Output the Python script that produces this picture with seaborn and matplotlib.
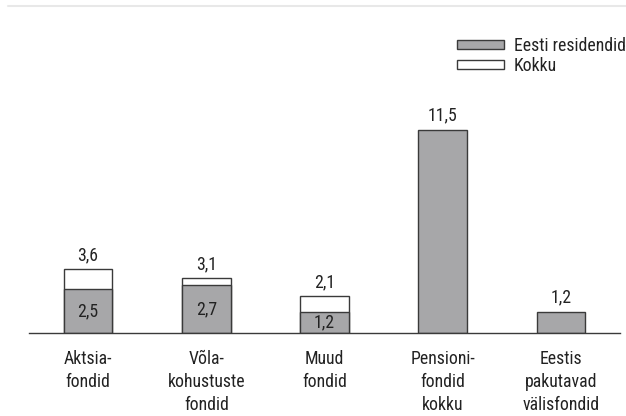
import matplotlib
matplotlib.use("Agg")
import matplotlib.pyplot as plt
from matplotlib import font_manager
from matplotlib.lines import Line2D
from matplotlib.patches import Patch
import numpy as np
import pandas as pd
import seaborn as sns

categories = ["Aktsia-\nfondid", "Võla-\nkohustuste\nfondid", "Muud\nfondid",
              "Pensioni-\nfondid\nkokku", "Eestis\npakutavad\nvälisfondid"]
residents = [2.5, 2.7, 1.2, 11.5, 1.2]
totals = [3.6, 3.1, 2.1, np.nan, np.nan]

sns.set_theme(style="white")
installed = {f.name for f in font_manager.fontManager.ttflist}
preferred = ["Liberation Sans Narrow", "DejaVu Sans Condensed", "Roboto Condensed",
             "Open Sans Condensed", "Noto Sans Condensed"]
narrow = [f for f in preferred if f in installed]
plt.rcParams["font.family"] = narrow[:1] + ["DejaVu Sans"]
fs = 12.8 if narrow else 10.5

df = pd.DataFrame({"kategooria": categories, "residendid": residents, "kokku": totals})

fig = plt.figure(figsize=(6.26, 4.16), dpi=100)
ax = fig.add_axes([29 / 626, 1 - 333 / 416, (620 - 29) / 626, (333 - 68) / 416])

edge = "#3a3a3a"
gray = "#a7a7a9"
bw = 0.41

sns.barplot(data=df, x="kategooria", y="kokku", order=categories, color="white",
            edgecolor=edge, linewidth=1.0, width=bw, saturation=1, ax=ax)
sns.barplot(data=df, x="kategooria", y="residendid", order=categories, color=gray,
            edgecolor=edge, linewidth=1.0, width=bw, saturation=1, ax=ax)

fmt = lambda v: f"{v:.1f}".replace(".", ",")
txt = "#222222"
for i, (r, t) in enumerate(zip(residents, totals)):
    top = r if np.isnan(t) else t
    ax.annotate(fmt(top), (i, top), xytext=(0, 6.5), textcoords="offset points",
                ha="center", va="baseline", fontsize=fs, color=txt)
    if not np.isnan(t):
        ax.text(i, r / 2, fmt(r), ha="center", va="center", fontsize=fs, color=txt)

ax.set_ylim(0, 15)
ax.set_xlim(-0.5, len(categories) - 0.5)
ax.set_xlabel("")
ax.set_ylabel("")
ax.set_yticks([])
for s in ["top", "right", "left"]:
    ax.spines[s].set_visible(False)
ax.spines["bottom"].set_color(edge)
ax.spines["bottom"].set_linewidth(1.0)

ax.set_xticks(range(len(categories)))
ax.set_xticklabels(categories, fontsize=fs, color=txt, linespacing=1.36)
ax.tick_params(axis="x", which="major", length=0, pad=12)
ax.set_xticks(np.arange(-0.5, len(categories)), minor=True)
ax.tick_params(axis="x", which="minor", length=7, width=1.0, color=edge, direction="out")

handles = [Patch(facecolor=gray, edgecolor=edge, linewidth=1.0, label="Eesti residendid"),
           Patch(facecolor="white", edgecolor=edge, linewidth=1.0, label="Kokku")]
leg = fig.legend(handles=handles, loc="upper right", bbox_to_anchor=(1.0, 1 - 37 / 416),
                 frameon=False, fontsize=fs, handlelength=2.65, handleheight=0.4,
                 handletextpad=0.55, labelspacing=0.12, borderpad=0, borderaxespad=0)
for t in leg.get_texts():
    t.set_color(txt)

fig.add_artist(Line2D([8 / 626, 1.0], [1 - 6 / 416, 1 - 6 / 416], color="#e8e8e8",
                      linewidth=1.5, transform=fig.transFigure))

fig.savefig("out.png", dpi=100, facecolor="white")
